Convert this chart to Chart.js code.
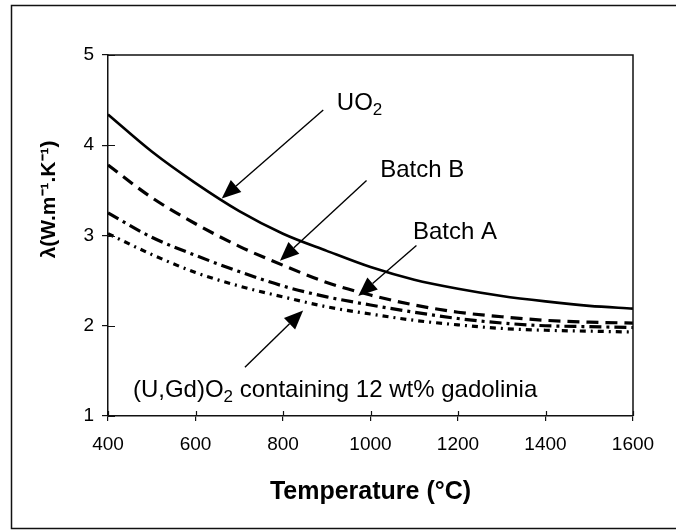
<!DOCTYPE html>
<html><head><meta charset="utf-8">
<script src="https://cdn.jsdelivr.net/npm/chart.js@4"></script>
<style>html,body{margin:0;padding:0;background:#fff}</style>
</head><body>
<canvas id="c" width="676" height="531" style="display:block;width:676px;height:531px"></canvas>
<script>
// ---- data ----
const temperatures = [400, 500, 600, 700, 800, 900, 1000, 1100, 1200, 1300, 1400, 1500, 1600];
const uo2       = [4.34, 3.93, 3.58, 3.27, 3.02, 2.83, 2.65, 2.51, 2.41, 2.33, 2.27, 2.22, 2.19];
const batchB    = [3.78, 3.42, 3.13, 2.88, 2.67, 2.48, 2.34, 2.23, 2.15, 2.10, 2.06, 2.04, 2.03];
const batchA    = [3.25, 2.98, 2.78, 2.60, 2.44, 2.32, 2.23, 2.15, 2.08, 2.03, 2.00, 1.99, 1.98];
const gadolinia = [3.02, 2.79, 2.59, 2.44, 2.32, 2.21, 2.13, 2.06, 2.01, 1.97, 1.95, 1.94, 1.93];
const xTickValues = [400, 600, 800, 1000, 1200, 1400, 1600];
const yTickValues = [1, 2, 3, 4, 5];
const seriesNames = ['UO2', 'Batch B', 'Batch A', '(U,Gd)O2 containing 12 wt% gadolinia'];
const xTitle = 'Temperature (°C)';
const yTitle = 'λ(W.m⁻¹.K⁻¹)';
// annotation labels: main text, subscript, rest, x, y(baseline) in data units
const labelMain = ['UO', 'Batch B', 'Batch A', '(U,Gd)O'];
const labelSub  = ['2', '', '', '2'];
const labelRest = ['', '', '', ' containing 12 wt% gadolinia'];
const labelX    = [923, 1022, 1097, 457];
const labelY    = [4.39, 3.65, 2.96, 1.21];
// arrows: start -> tip, data units
const arrowFromX = [892, 991, 1105, 713];
const arrowFromY = [4.39, 3.61, 2.89, 1.54];
const arrowToX   = [660, 793, 972, 846];
const arrowToY   = [3.41, 2.72, 2.33, 2.17];

const FONT = "'Liberation Sans', Arial, Helvetica, sans-serif";
const toXY = arr => temperatures.map((t, i) => ({x: t, y: arr[i]}));

const framePlugin = {
  id: 'framePlugin',
  beforeDraw(chart) {
    const ctx = chart.ctx;
    ctx.save();
    ctx.fillStyle = '#fff';
    ctx.fillRect(0, 0, chart.width, chart.height);
    ctx.strokeStyle = '#111';
    ctx.lineWidth = 1.5;
    ctx.strokeRect(11.5, 5.5, 680, 523);
    ctx.restore();
  },
  afterDraw(chart) {
    const {ctx, chartArea: a, scales: {x, y}} = chart;
    ctx.save();
    ctx.strokeStyle = '#111';
    ctx.lineWidth = 1.5;
    ctx.beginPath();
    ctx.moveTo(a.left, a.top); ctx.lineTo(a.right, a.top); ctx.lineTo(a.right, a.bottom);
    ctx.stroke();
    ctx.lineWidth = 1.2;
    ctx.beginPath();
    yTickValues.forEach(v => { const py = Math.round(y.getPixelForValue(v)) + 0.5; ctx.moveTo(a.left, py); ctx.lineTo(a.left + 7, py); });
    xTickValues.forEach(v => { const px = Math.round(x.getPixelForValue(v)) + 0.5; ctx.moveTo(px, a.bottom); ctx.lineTo(px, a.bottom - 5); });
    ctx.stroke();
    // y axis title (slightly above centre, as in the reference)
    ctx.fillStyle = '#000';
    ctx.font = `bold 21px ${FONT}`;
    ctx.textAlign = 'center';
    ctx.textBaseline = 'middle';
    ctx.translate(49, y.getPixelForValue(3.4));
    ctx.rotate(-Math.PI / 2);
    ctx.fillText(yTitle, 0, 0);
    ctx.restore();
  }
};

const annotationPlugin = {
  id: 'annotationPlugin',
  afterDatasetsDraw(chart) {
    const {ctx, scales: {x, y}} = chart;
    ctx.save();
    ctx.fillStyle = '#000';
    ctx.strokeStyle = '#000';
    for (let i = 0; i < arrowFromX.length; i++) {
      const x0 = x.getPixelForValue(arrowFromX[i]), y0 = y.getPixelForValue(arrowFromY[i]);
      const x1 = x.getPixelForValue(arrowToX[i]), y1 = y.getPixelForValue(arrowToY[i]);
      const ang = Math.atan2(y1 - y0, x1 - x0);
      const L = 19, W = 8;
      const bx = x1 - L * Math.cos(ang), by = y1 - L * Math.sin(ang);
      ctx.lineWidth = 1.4;
      ctx.beginPath(); ctx.moveTo(x0, y0); ctx.lineTo(bx, by); ctx.stroke();
      ctx.beginPath();
      ctx.moveTo(x1, y1);
      ctx.lineTo(bx + W * Math.sin(ang), by - W * Math.cos(ang));
      ctx.lineTo(bx - W * Math.sin(ang), by + W * Math.cos(ang));
      ctx.closePath(); ctx.fill();
    }
    ctx.textBaseline = 'alphabetic';
    ctx.textAlign = 'left';
    for (let i = 0; i < labelMain.length; i++) {
      let px = x.getPixelForValue(labelX[i]);
      const py = y.getPixelForValue(labelY[i]);
      ctx.font = `24px ${FONT}`;
      ctx.fillText(labelMain[i], px, py);
      px += ctx.measureText(labelMain[i]).width;
      if (labelSub[i]) {
        ctx.font = `17px ${FONT}`;
        ctx.fillText(labelSub[i], px, py + 5);
        px += ctx.measureText(labelSub[i]).width;
      }
      if (labelRest[i]) {
        ctx.font = `24px ${FONT}`;
        ctx.fillText(labelRest[i], px, py);
      }
    }
    ctx.restore();
  }
};

new Chart(document.getElementById('c'), {
  type: 'line',
  data: {
    datasets: [
      {label: seriesNames[0], data: toXY(uo2), borderColor: '#000', borderWidth: 2.6, pointRadius: 0, borderDash: []},
      {label: seriesNames[1], data: toXY(batchB), borderColor: '#000', borderWidth: 3.2, pointRadius: 0, borderDash: [12, 7]},
      {label: seriesNames[2], data: toXY(batchA), borderColor: '#000', borderWidth: 3.2, pointRadius: 0, borderDash: [12, 5, 3, 5]},
      {label: seriesNames[3], data: toXY(gadolinia), borderColor: '#000', borderWidth: 3.2, pointRadius: 0, borderDash: [6, 5, 2, 5]}
    ]
  },
  options: {
    responsive: false,
    animation: false,
    devicePixelRatio: 1,
    elements: {line: {cubicInterpolationMode: 'monotone', tension: 0.4, borderCapStyle: 'butt'}},
    layout: {padding: {left: 0, top: 55, right: 43, bottom: 0}},
    plugins: {legend: {display: false}, tooltip: {enabled: false}},
    scales: {
      x: {
        type: 'linear', min: 400, max: 1600,
        afterFit: s => { s.height = 115; },
        afterBuildTicks: s => { s.ticks = xTickValues.map(v => ({value: v})); },
        grid: {display: true, drawOnChartArea: false, drawTicks: true, tickLength: 5, color: '#111', lineWidth: 1.2},
        border: {display: true, color: '#111', width: 1.5},
        ticks: {color: '#000', font: {family: FONT, size: 19}, padding: 12, maxRotation: 0, autoSkip: false, callback: v => String(v)},
        title: {display: true, text: xTitle, color: '#000', font: {family: FONT, size: 25, weight: 'bold'}, padding: {top: 0, bottom: 24}}
      },
      y: {
        type: 'linear', min: 1, max: 5,
        afterFit: s => { s.width = 108; },
        afterBuildTicks: s => { s.ticks = yTickValues.map(v => ({value: v})); },
        grid: {display: true, drawOnChartArea: false, drawTicks: true, tickLength: 6, color: '#111', lineWidth: 1.2},
        border: {display: true, color: '#111', width: 1.5},
        ticks: {color: '#000', font: {family: FONT, size: 19}, padding: 8, callback: v => String(v)},
        title: {display: false}
      }
    }
  },
  plugins: [framePlugin, annotationPlugin]
});
</script>
</body></html>
